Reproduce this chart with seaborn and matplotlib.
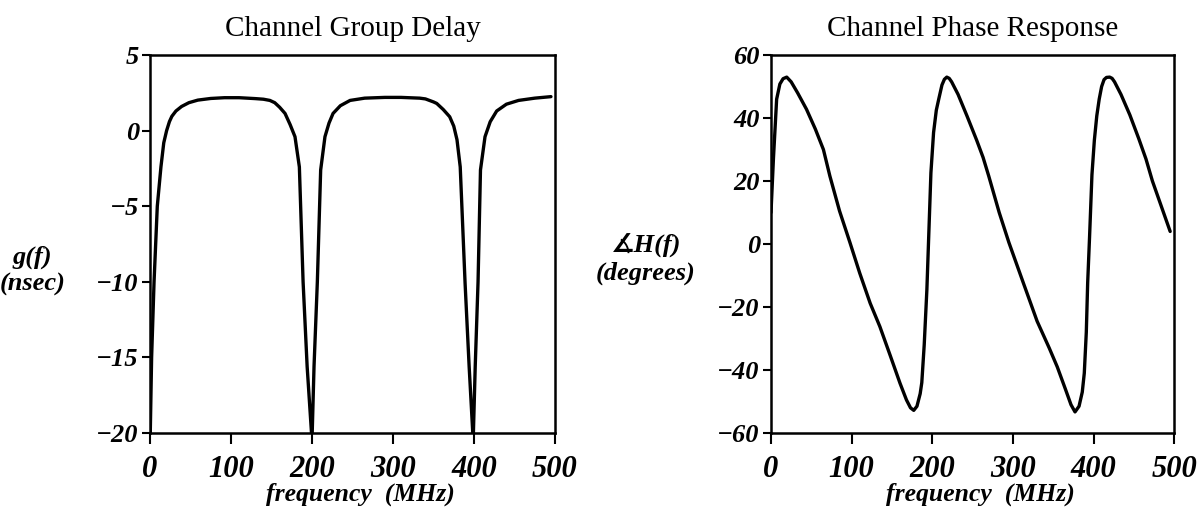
import pandas as pd
import seaborn as sns
import matplotlib.pyplot as plt


sns.set_theme(context='paper', style='ticks')
plt.rcParams['font.family'] = ['Liberation Serif', 'DejaVu Sans']
plt.rcParams['text.color'] = 'black'
plt.rcParams['xtick.color'] = 'black'
plt.rcParams['ytick.color'] = 'black'
plt.rcParams['axes.labelcolor'] = 'black'


# Datos
delay_freq = [0, 2, 5, 9, 13.5, 17, 20.5, 24, 27, 32, 39, 48, 59, 75, 92, 110, 130, 140, 148, 154,
              160, 166.7, 173, 179, 184.4, 189, 194, 200, 202.5, 206.6, 210.7, 216, 221, 226, 235,
              247, 265, 290, 310, 333, 340, 345, 350, 354, 362, 370, 375, 379, 383, 389, 394, 399,
              401.5, 405, 408, 413.6, 420, 428, 440, 455, 475, 495]
delay_nsec = [-21, -15, -10, -5, -2.4, -0.8, 0, 0.6, 0.95, 1.3, 1.6, 1.85, 2.02, 2.13, 2.18, 2.18,
              2.12, 2.08, 2.0, 1.85, 1.55, 1.14, 0.4, -0.4, -2.4, -10, -15.6, -20.5, -15.6, -10,
              -2.6, -0.4, 0.5, 1.14, 1.65, 2.0, 2.15, 2.2, 2.2, 2.15, 2.1, 2.0, 1.9, 1.8, 1.4, 0.92,
              0.3, -0.6, -2.4, -10.1, -15.6, -20.5, -15.6, -10, -2.6, -0.4, 0.59, 1.3, 1.75, 2.0,
              2.15, 2.25]

phase_freq = [0, 3, 7, 11, 15, 19.5, 25, 33, 44, 55, 65, 73, 85, 98, 110, 123, 135, 148, 160, 168,
              173, 177, 181, 185, 187, 190, 193.3, 198.3, 201.6, 205, 208, 212, 215, 218, 221, 224,
              232, 243, 255, 263, 270, 283, 295, 313, 330, 345, 355, 365, 372, 377, 382, 386, 388.5,
              391, 392.7, 395, 398, 401, 404, 407, 410, 413, 416, 420, 423, 426, 434, 445, 456, 465,
              473, 484, 495]
phase_deg = [10, 27, 46, 50.8, 52.5, 53, 51.5, 48, 42.8, 36.5, 30, 21.6, 10.5, 0.4, -9.2, -18.8,
             -26.2, -35.5, -44.2, -49.5, -52, -52.8, -51.5, -47.5, -44, -32, -14.5, 22.6, 35.4,
             42.5, 46, 50.5, 52.3, 53, 52.6, 51.5, 47.5, 40.7, 33, 27.5, 21.6, 10, 0.5, -12.4,
             -24.5, -33, -39, -46, -51, -53.3, -51.5, -47, -41, -28, -12.3, 2, 22, 33, 40.7, 46,
             50, 52.2, 52.9, 53, 52.6, 51.5, 47.5, 41, 33.5, 27, 20, 12, 4]

delay_ticks = [-20, -15, -10, -5, 0, 5]
phase_ticks = [-60, -40, -20, 0, 20, 40, 60]
freq_ticks = [0, 100, 200, 300, 400, 500]

delay_df = pd.DataFrame({'freq': delay_freq, 'delay': delay_nsec})
phase_df = pd.DataFrame({'freq': phase_freq, 'phase': phase_deg})


fig = plt.figure(figsize=(12, 5.08), dpi=100)
ax1 = fig.add_axes([0.125, 0.1476, 0.3375, 0.744])
ax2 = fig.add_axes([0.6425, 0.1476, 0.336, 0.744])

sns.lineplot(data=delay_df, x='freq', y='delay', estimator=None, color='black', linewidth=2.4, ax=ax1)
sns.lineplot(data=phase_df, x='freq', y='phase', estimator=None, color='black', linewidth=2.4, ax=ax2)

bold_it = dict(family=['Liberation Serif', 'DejaVu Sans'], weight='bold', style='italic')

for ax, yticks, title, ylab in [(ax1, delay_ticks, 'Channel Group Delay', 'g(f)\n(nsec)'),
                                (ax2, phase_ticks, 'Channel Phase Response', '\u2221H(f)\n(degrees)')]:
    ax.set_xlim(0, 500)
    ax.set_ylim(yticks[0], yticks[-1])
    ax.set_xticks(freq_ticks)
    ax.set_yticks(yticks)
    ax.set_xticklabels([str(t) for t in freq_ticks], fontsize=22, **bold_it)
    ax.set_yticklabels([str(t).replace('-', '\u2212') for t in yticks], fontsize=19, **bold_it)
    ax.tick_params(axis='x', length=8, width=1.5, pad=8)
    ax.tick_params(axis='y', length=6, width=1.5, pad=2)
    for s in ax.spines.values():
        s.set_linewidth(1.8)
        s.set_color('black')
    ax.set_title(title, fontsize=21, family=['Liberation Serif', 'DejaVu Sans'], pad=14)
    ax.set_xlabel('frequency  (MHz)', fontsize=18.5, **bold_it)
    ax.set_ylabel(ylab, rotation=0, fontsize=19, ha='center', va='center', linespacing=1.2, **bold_it)

ax1.xaxis.set_label_coords(0.52, -0.13)
ax2.xaxis.set_label_coords(0.52, -0.13)
ax1.yaxis.set_label_coords(-0.29, 0.43)
ax2.yaxis.set_label_coords(-0.31, 0.46)

plt.savefig('out.png', dpi=100)
